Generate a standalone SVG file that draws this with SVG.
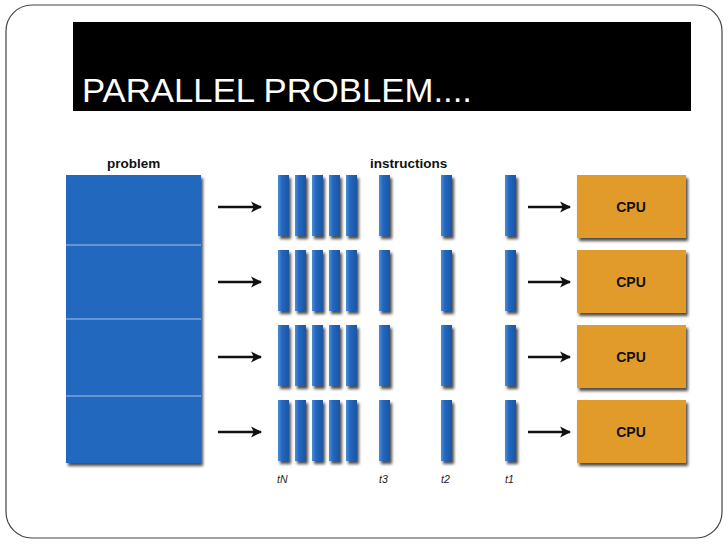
<svg xmlns="http://www.w3.org/2000/svg" width="728" height="546" viewBox="0 0 728 546">
<defs>
<filter id="sh" x="-30%" y="-20%" width="170%" height="150%">
<feDropShadow dx="2" dy="3" stdDeviation="1.5" flood-color="#000" flood-opacity="0.7"/>
</filter>
<linearGradient id="bar" x1="0" y1="0" x2="1" y2="0">
<stop offset="0" stop-color="#4a8ed8"/>
<stop offset="0.35" stop-color="#2468c0"/>
<stop offset="1" stop-color="#1a55a3"/>
</linearGradient>
<marker id="ah" viewBox="0 0 10 10" refX="9" refY="5" markerWidth="4.6" markerHeight="4.6" orient="auto" markerUnits="strokeWidth">
<path d="M0,0 L10,5 L0,10 L2.5,5 Z" fill="#111"/>
</marker>
</defs>
<style>
.frame{fill:#fff;stroke:#444;stroke-width:1.2}
.blk{fill:#2468be;filter:url(#sh)}
.sep{stroke:#a9c3e3;stroke-width:1.2}
.bar{fill:url(#bar);filter:url(#sh)}
.cpu{fill:#e19b2c;filter:url(#sh)}
.lbl{font-family:"Liberation Sans",Arial,sans-serif;font-weight:bold;font-size:13.5px;fill:#111}
.cpul{font-family:"Liberation Sans",Arial,sans-serif;font-weight:bold;font-size:14px;fill:#111;text-anchor:middle}
.t{font-family:"Liberation Sans",Arial,sans-serif;font-style:italic;font-size:10.5px;fill:#222}
.arr{stroke:#111;stroke-width:2.4;fill:none;marker-end:url(#ah)}
</style>
<rect class="frame" x="6" y="5" width="716" height="533" rx="26" ry="26"/>
<g id="title">
<rect x="73" y="22" width="618" height="89" fill="#000"/>
<text x="82" y="102" font-family="Liberation Sans,Arial,sans-serif" font-size="33" fill="#fff" textLength="390" lengthAdjust="spacingAndGlyphs">PARALLEL PROBLEM....</text>
</g>
<g id="problem">
<text class="lbl" x="107" y="168">problem</text>
<rect class="blk" x="66" y="175" width="135" height="288"/>
<line class="sep" x1="66" y1="245" x2="201" y2="245"/>
<line class="sep" x1="66" y1="319" x2="201" y2="319"/>
<line class="sep" x1="66" y1="396" x2="201" y2="396"/>
</g>
<g id="instructions">
<text class="lbl" x="370" y="168">instructions</text>
<g id="row1">
<rect class="bar" x="278" y="175" width="11" height="61"/>
<rect class="bar" x="295" y="175" width="11" height="61"/>
<rect class="bar" x="312" y="175" width="11" height="61"/>
<rect class="bar" x="329" y="175" width="11" height="61"/>
<rect class="bar" x="346" y="175" width="11" height="61"/>
<rect class="bar" x="379" y="175" width="11" height="61"/>
<rect class="bar" x="441" y="175" width="11" height="61"/>
<rect class="bar" x="505" y="175" width="11" height="61"/>
</g>
<g id="row2">
<rect class="bar" x="278" y="250" width="11" height="61"/>
<rect class="bar" x="295" y="250" width="11" height="61"/>
<rect class="bar" x="312" y="250" width="11" height="61"/>
<rect class="bar" x="329" y="250" width="11" height="61"/>
<rect class="bar" x="346" y="250" width="11" height="61"/>
<rect class="bar" x="379" y="250" width="11" height="61"/>
<rect class="bar" x="441" y="250" width="11" height="61"/>
<rect class="bar" x="505" y="250" width="11" height="61"/>
</g>
<g id="row3">
<rect class="bar" x="278" y="325" width="11" height="61"/>
<rect class="bar" x="295" y="325" width="11" height="61"/>
<rect class="bar" x="312" y="325" width="11" height="61"/>
<rect class="bar" x="329" y="325" width="11" height="61"/>
<rect class="bar" x="346" y="325" width="11" height="61"/>
<rect class="bar" x="379" y="325" width="11" height="61"/>
<rect class="bar" x="441" y="325" width="11" height="61"/>
<rect class="bar" x="505" y="325" width="11" height="61"/>
</g>
<g id="row4">
<rect class="bar" x="278" y="400" width="11" height="61"/>
<rect class="bar" x="295" y="400" width="11" height="61"/>
<rect class="bar" x="312" y="400" width="11" height="61"/>
<rect class="bar" x="329" y="400" width="11" height="61"/>
<rect class="bar" x="346" y="400" width="11" height="61"/>
<rect class="bar" x="379" y="400" width="11" height="61"/>
<rect class="bar" x="441" y="400" width="11" height="61"/>
<rect class="bar" x="505" y="400" width="11" height="61"/>
</g>
<text class="t" x="277" y="483">tN</text>
<text class="t" x="379" y="483">t3</text>
<text class="t" x="441" y="483">t2</text>
<text class="t" x="505" y="483">t1</text>
</g>
<g id="cpu1"><rect class="cpu" x="577" y="175" width="109" height="63"/><text class="cpul" x="631" y="212">CPU</text></g>
<g id="cpu2"><rect class="cpu" x="577" y="250" width="109" height="63"/><text class="cpul" x="631" y="287">CPU</text></g>
<g id="cpu3"><rect class="cpu" x="577" y="325" width="109" height="63"/><text class="cpul" x="631" y="362">CPU</text></g>
<g id="cpu4"><rect class="cpu" x="577" y="400" width="109" height="63"/><text class="cpul" x="631" y="437">CPU</text></g>
<g id="connectors">
<line class="arr" x1="218" y1="207" x2="261" y2="207"/>
<line class="arr" x1="218" y1="282" x2="261" y2="282"/>
<line class="arr" x1="218" y1="357" x2="261" y2="357"/>
<line class="arr" x1="218" y1="432" x2="261" y2="432"/>
<line class="arr" x1="528" y1="207" x2="570" y2="207"/>
<line class="arr" x1="528" y1="282" x2="570" y2="282"/>
<line class="arr" x1="528" y1="357" x2="570" y2="357"/>
<line class="arr" x1="528" y1="432" x2="570" y2="432"/>
</g>
</svg>
